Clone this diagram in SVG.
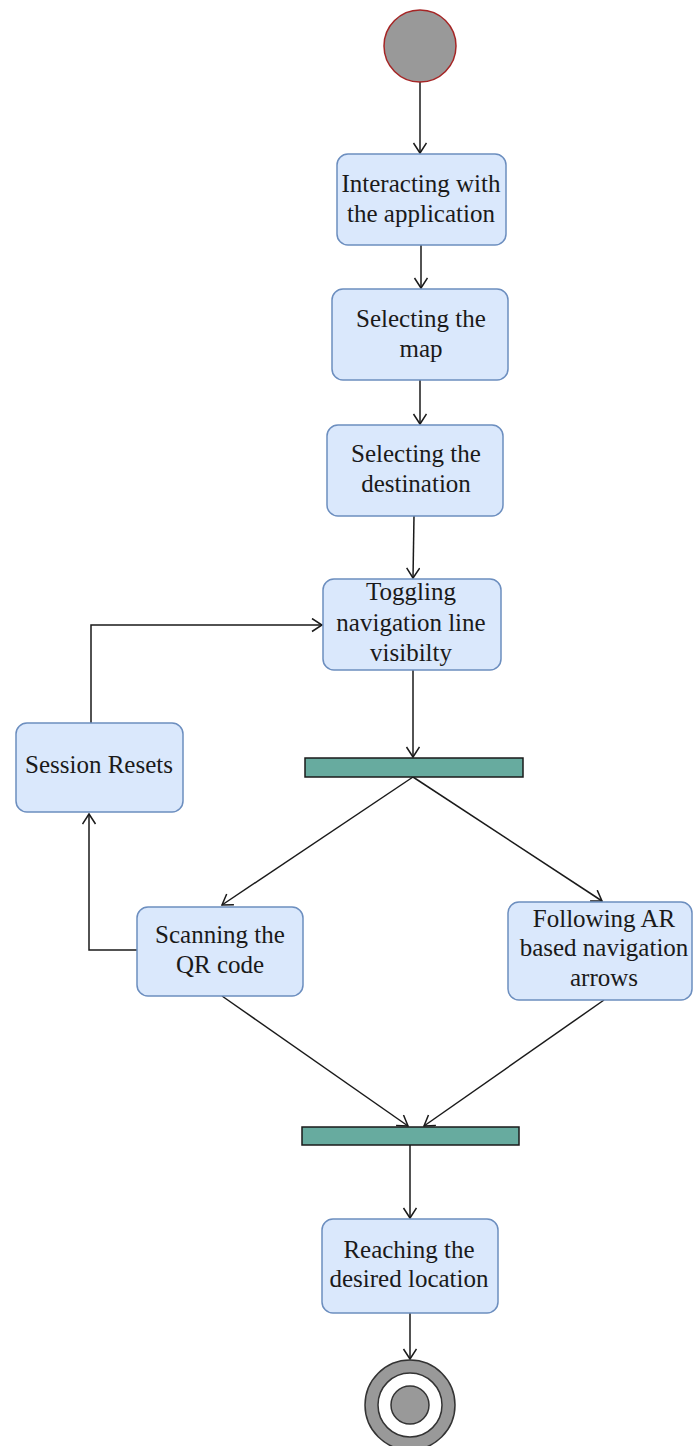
<svg xmlns="http://www.w3.org/2000/svg" width="693" height="1446" viewBox="0 0 693 1446">
<style>
.box{fill:#dae8fc;stroke:#6c8ebf;stroke-width:1.5}
.bar{fill:#67ab9f;stroke:#1a1a1a;stroke-width:1.5}
.lbl{font-family:"Liberation Serif","Times New Roman",serif;font-size:25px;fill:#1a1a1a;text-anchor:middle}
.edge{fill:none;stroke:#1a1a1a;stroke-width:1.5;marker-end:url(#arr)}
</style>
<defs>
<marker id="arr" markerUnits="userSpaceOnUse" markerWidth="14" markerHeight="16" refX="11" refY="7" orient="auto">
<path d="M1,0.5 L11,7 L1,13.5" fill="none" stroke="#1a1a1a" stroke-width="1.5"/>
</marker>
</defs>
<rect width="693" height="1446" fill="#ffffff"/>
<g id="connectors">
<path class="edge" d="M420,82 L420,153"/>
<path class="edge" d="M421,245 L421,288"/>
<path class="edge" d="M420,380 L420,424"/>
<path class="edge" d="M414,516 L413,578"/>
<path class="edge" d="M413,670 L413,757"/>
<path class="edge" d="M413,777 L222,905"/>
<path class="edge" d="M413,777 L602,901"/>
<path class="edge" d="M222,996 L408,1126"/>
<path class="edge" d="M604,1000 L424,1126"/>
<path class="edge" d="M410,1145 L410,1218"/>
<path class="edge" d="M410,1313 L410,1359"/>
<path class="edge" d="M137,950 L89,950 L89,814"/>
<path class="edge" d="M91,723 L91,625 L322,625"/>
</g>
<g id="start">
<circle cx="420" cy="46" r="36" fill="#999999" stroke="#a52525" stroke-width="1.5"/>
</g>
<g id="n1">
<rect class="box" x="337" y="154" width="169" height="91" rx="11"/>
<text class="lbl" x="421" y="192">Interacting with</text>
<text class="lbl" x="421" y="222">the application</text>
</g>
<g id="n2">
<rect class="box" x="332" y="289" width="176" height="91" rx="11"/>
<text class="lbl" x="421" y="327">Selecting the</text>
<text class="lbl" x="421" y="357">map</text>
</g>
<g id="n3">
<rect class="box" x="327" y="425" width="176" height="91" rx="11"/>
<text class="lbl" x="416" y="462">Selecting the</text>
<text class="lbl" x="416" y="492">destination</text>
</g>
<g id="n4">
<rect class="box" x="323" y="579" width="178" height="91" rx="11"/>
<text class="lbl" x="411" y="600">Toggling</text>
<text class="lbl" x="411" y="631">navigation line</text>
<text class="lbl" x="411" y="661">visibilty</text>
</g>
<g id="fork">
<rect class="bar" x="305" y="758" width="218" height="19"/>
</g>
<g id="n5">
<rect class="box" x="16" y="723" width="167" height="89" rx="11"/>
<text class="lbl" x="99" y="773">Session Resets</text>
</g>
<g id="n6">
<rect class="box" x="137" y="907" width="166" height="89" rx="11"/>
<text class="lbl" x="220" y="943">Scanning the</text>
<text class="lbl" x="220" y="973">QR code</text>
</g>
<g id="n7">
<rect class="box" x="508" y="902" width="184" height="98" rx="11"/>
<text class="lbl" x="604" y="927">Following AR</text>
<text class="lbl" x="604" y="956">based navigation</text>
<text class="lbl" x="604" y="986">arrows</text>
</g>
<g id="join">
<rect class="bar" x="302" y="1127" width="217" height="18"/>
</g>
<g id="n8">
<rect class="box" x="322" y="1219" width="176" height="94" rx="11"/>
<text class="lbl" x="409" y="1258">Reaching the</text>
<text class="lbl" x="409" y="1287">desired location</text>
</g>
<g id="end">
<circle cx="410" cy="1405" r="45" fill="#999999" stroke="#333333" stroke-width="1.5"/>
<circle cx="410" cy="1405" r="32" fill="#ffffff" stroke="#333333" stroke-width="1.5"/>
<circle cx="410" cy="1405" r="19" fill="#999999" stroke="#333333" stroke-width="1.5"/>
</g>
</svg>
